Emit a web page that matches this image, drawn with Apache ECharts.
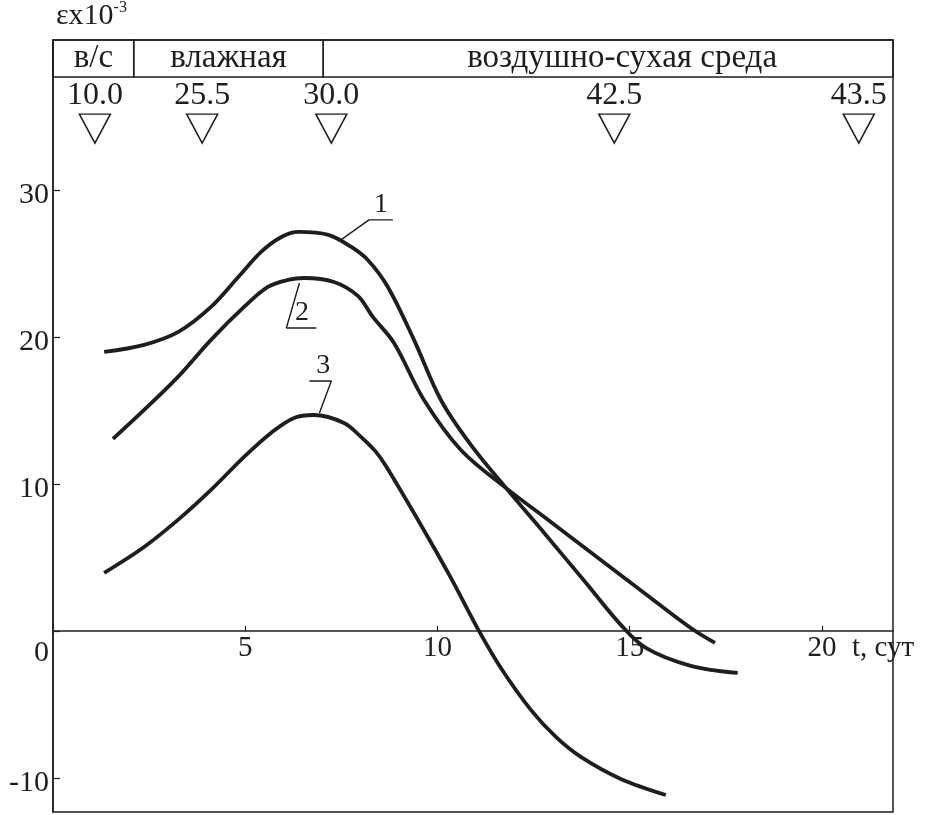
<!DOCTYPE html>
<html>
<head>
<meta charset="utf-8">
<script src="https://cdn.jsdelivr.net/npm/echarts@6/dist/echarts.min.js"></script>
<style>html,body{margin:0;padding:0;background:#fff}#c{width:929px;height:815px}</style>
</head>
<body>
<div id="c"></div>
<script>
// ---- data ----
const xMin = 0, xMax = 21.85;
const yMin = -12.32, yMax = 40.2;
const xTickValues = [5, 10, 15, 20];
const yTickValues = [-10, 0, 10, 20, 30];
const xAxisName = 't, сут';

const curve1 = [[1.33,18.98],[2.37,19.46],[3.26,20.34],[4.11,22.04],[4.82,24.08],[5.42,25.8],[5.94,26.8],[6.38,27.14],[7.16,26.94],[7.76,26.12],[8.2,25.2],[8.71,23.4],[9.39,19.8],[10.09,15.71],[10.87,12.65],[11.78,9.73],[12.82,6.53],[13.86,3.27],[14.77,0.41],[15.42,-1.16],[16.59,-2.38],[17.81,-2.86]];
const curve2 = [[1.56,13.06],[2.37,15.03],[3.25,17.28],[4.11,19.8],[4.97,22.04],[5.59,23.4],[6.11,23.88],[6.53,24.01],[7.31,23.74],[7.93,22.79],[8.32,21.36],[8.87,19.59],[9.65,15.71],[10.61,12.31],[11.78,9.73],[12.95,7.41],[14.25,4.83],[15.55,2.24],[16.59,0.2],[17.22,-0.82]];
const curve3 = [[1.33,3.95],[2.37,5.71],[3.25,7.55],[4.11,9.59],[4.97,11.84],[5.67,13.47],[6.27,14.49],[6.79,14.69],[7.57,14.15],[8.01,13.2],[8.4,12.18],[8.66,11.22],[9.57,7.21],[10.35,3.61],[11.08,0],[11.65,-2.52],[12.43,-5.37],[13.08,-7.21],[13.73,-8.57],[14.77,-10.07],[15.94,-11.16]];

const curveNames = ['1', '2', '3'];
const curveLabelPos = [[8.53, 28.98], [6.48, 21.63], [7.03, 18.03]];
const leader1 = [[7.49, 26.6], [8.22, 27.96], [8.84, 27.96]];
const leader2 = [[6.41, 23.67], [6.07, 20.61], [6.85, 20.61]];
const leader3 = [[6.67, 17.0], [7.24, 17.0], [6.93, 14.83]];

const headerNames = ['в/с', 'влажная', 'воздушно-сухая среда'];
const headerBounds = [0, 2.1, 7.03, 21.85];
const headerRowY = 37.69;

const markerLabels = ['10.0', '25.5', '30.0', '42.5', '43.5'];
const markerT = [1.09, 3.88, 7.24, 14.6, 20.96];
const markerY = 34.17;

// ---- chart ----
const INK = '#1e1e1e';
const FONT = '"Liberation Serif", "DejaVu Serif", serif';
const W = 929, H = 815;
const GRID = {left: 53, right: 36, top: 40, bottom: 3};
const gridH = H - GRID.top - GRID.bottom;
const xAxisOffset = -(0 - yMin) / (yMax - yMin) * gridH;

const chart = echarts.init(document.getElementById('c'), null, {renderer: 'canvas', width: W, height: H});

const curveSeries = [curve1, curve2, curve3].map((d, i) => ({
  type: 'line', name: 'curve' + (i + 1), data: d, smooth: 0.35, showSymbol: false,
  lineStyle: {color: INK, width: 3.8}, z: 4, silent: true
}));
const leaderSeries = [leader1, leader2, leader3].map(d => ({
  type: 'line', data: d, smooth: false, showSymbol: false,
  lineStyle: {color: INK, width: 1.4}, z: 3, silent: true
}));

chart.setOption({
  animation: false,
  backgroundColor: '#fff',
  grid: Object.assign({show: true, borderColor: INK, borderWidth: 1.5, backgroundColor: 'transparent',
    containLabel: false, outerBoundsMode: 'none'}, GRID),
  xAxis: {
    type: 'value', min: xMin, max: xMax, position: 'bottom', offset: xAxisOffset,
    name: xAxisName, nameLocation: 'end', nameGap: -41,
    nameTextStyle: {fontFamily: FONT, fontSize: 29, color: INK, verticalAlign: 'top', padding: [3, 0, 0, 0]},
    axisLine: {onZero: false, lineStyle: {color: INK, width: 1.5}},
    axisTick: {show: true, inside: true, length: 5, customValues: xTickValues, lineStyle: {color: INK, width: 1.2}},
    axisLabel: {customValues: xTickValues, fontFamily: FONT, fontSize: 29, color: INK, margin: 3},
    splitLine: {show: false}
  },
  yAxis: {
    type: 'value', min: yMin, max: yMax,
    name: '{a|εx10}{b|-3}', nameLocation: 'end', nameGap: 8,
    nameTextStyle: {align: 'left', verticalAlign: 'bottom', padding: [0, 0, 0, 3],
      rich: {a: {fontFamily: FONT, fontSize: 30, color: INK, lineHeight: 32}, b: {fontFamily: FONT, fontSize: 16, color: INK, verticalAlign: 'top', lineHeight: 32}}},
    axisLine: {show: true, lineStyle: {color: INK, width: 1.5}},
    axisTick: {show: true, inside: true, length: 7, customValues: yTickValues, lineStyle: {color: INK, width: 1.2}},
    axisLabel: {customValues: yTickValues, fontFamily: FONT, fontSize: 30, color: INK, margin: 4,
      formatter: v => v === 0 ? '{z|0}' : String(v),
      padding: [10, 0, 0, 0],
      rich: {z: {fontFamily: FONT, fontSize: 30, color: INK, padding: [34, 0, 0, 0]}}},
    splitLine: {show: false}
  },
  series: [
    ...curveSeries,
    ...leaderSeries,
    {
      type: 'scatter', silent: true, z: 5,
      data: curveLabelPos.map((p, i) => ({value: p, name: curveNames[i]})),
      symbolSize: 1, itemStyle: {color: 'rgba(0,0,0,0)', opacity: 1},
      label: {show: true, position: 'inside', formatter: p => p.name, fontFamily: FONT, fontSize: 28, color: INK}
    },
    {
      type: 'scatter', silent: true, z: 5,
      data: markerT.map((t, i) => ({value: [t, markerY], name: markerLabels[i]})),
      symbol: 'path://M0,0 L32,0 L16,30 Z', symbolSize: [31, 29],
      itemStyle: {color: '#fff', borderColor: INK, borderWidth: 1.5, opacity: 1},
      label: {show: true, position: 'top', distance: 2, formatter: p => p.name, fontFamily: FONT, fontSize: 32, color: INK},
      markArea: {
        silent: true,
        itemStyle: {color: 'rgba(0,0,0,0)', borderColor: INK, borderWidth: 1.5},
        label: {show: true, position: 'inside', fontFamily: FONT, fontSize: 33, color: INK},
        data: headerNames.map((n, i) => [
          {name: n, xAxis: headerBounds[i], yAxis: headerRowY, label: {offset: [i === 2 ? 14 : 0, 0]}},
          {xAxis: headerBounds[i + 1], yAxis: yMax}
        ])
      }
    }
  ]
});
</script>
</body>
</html>
